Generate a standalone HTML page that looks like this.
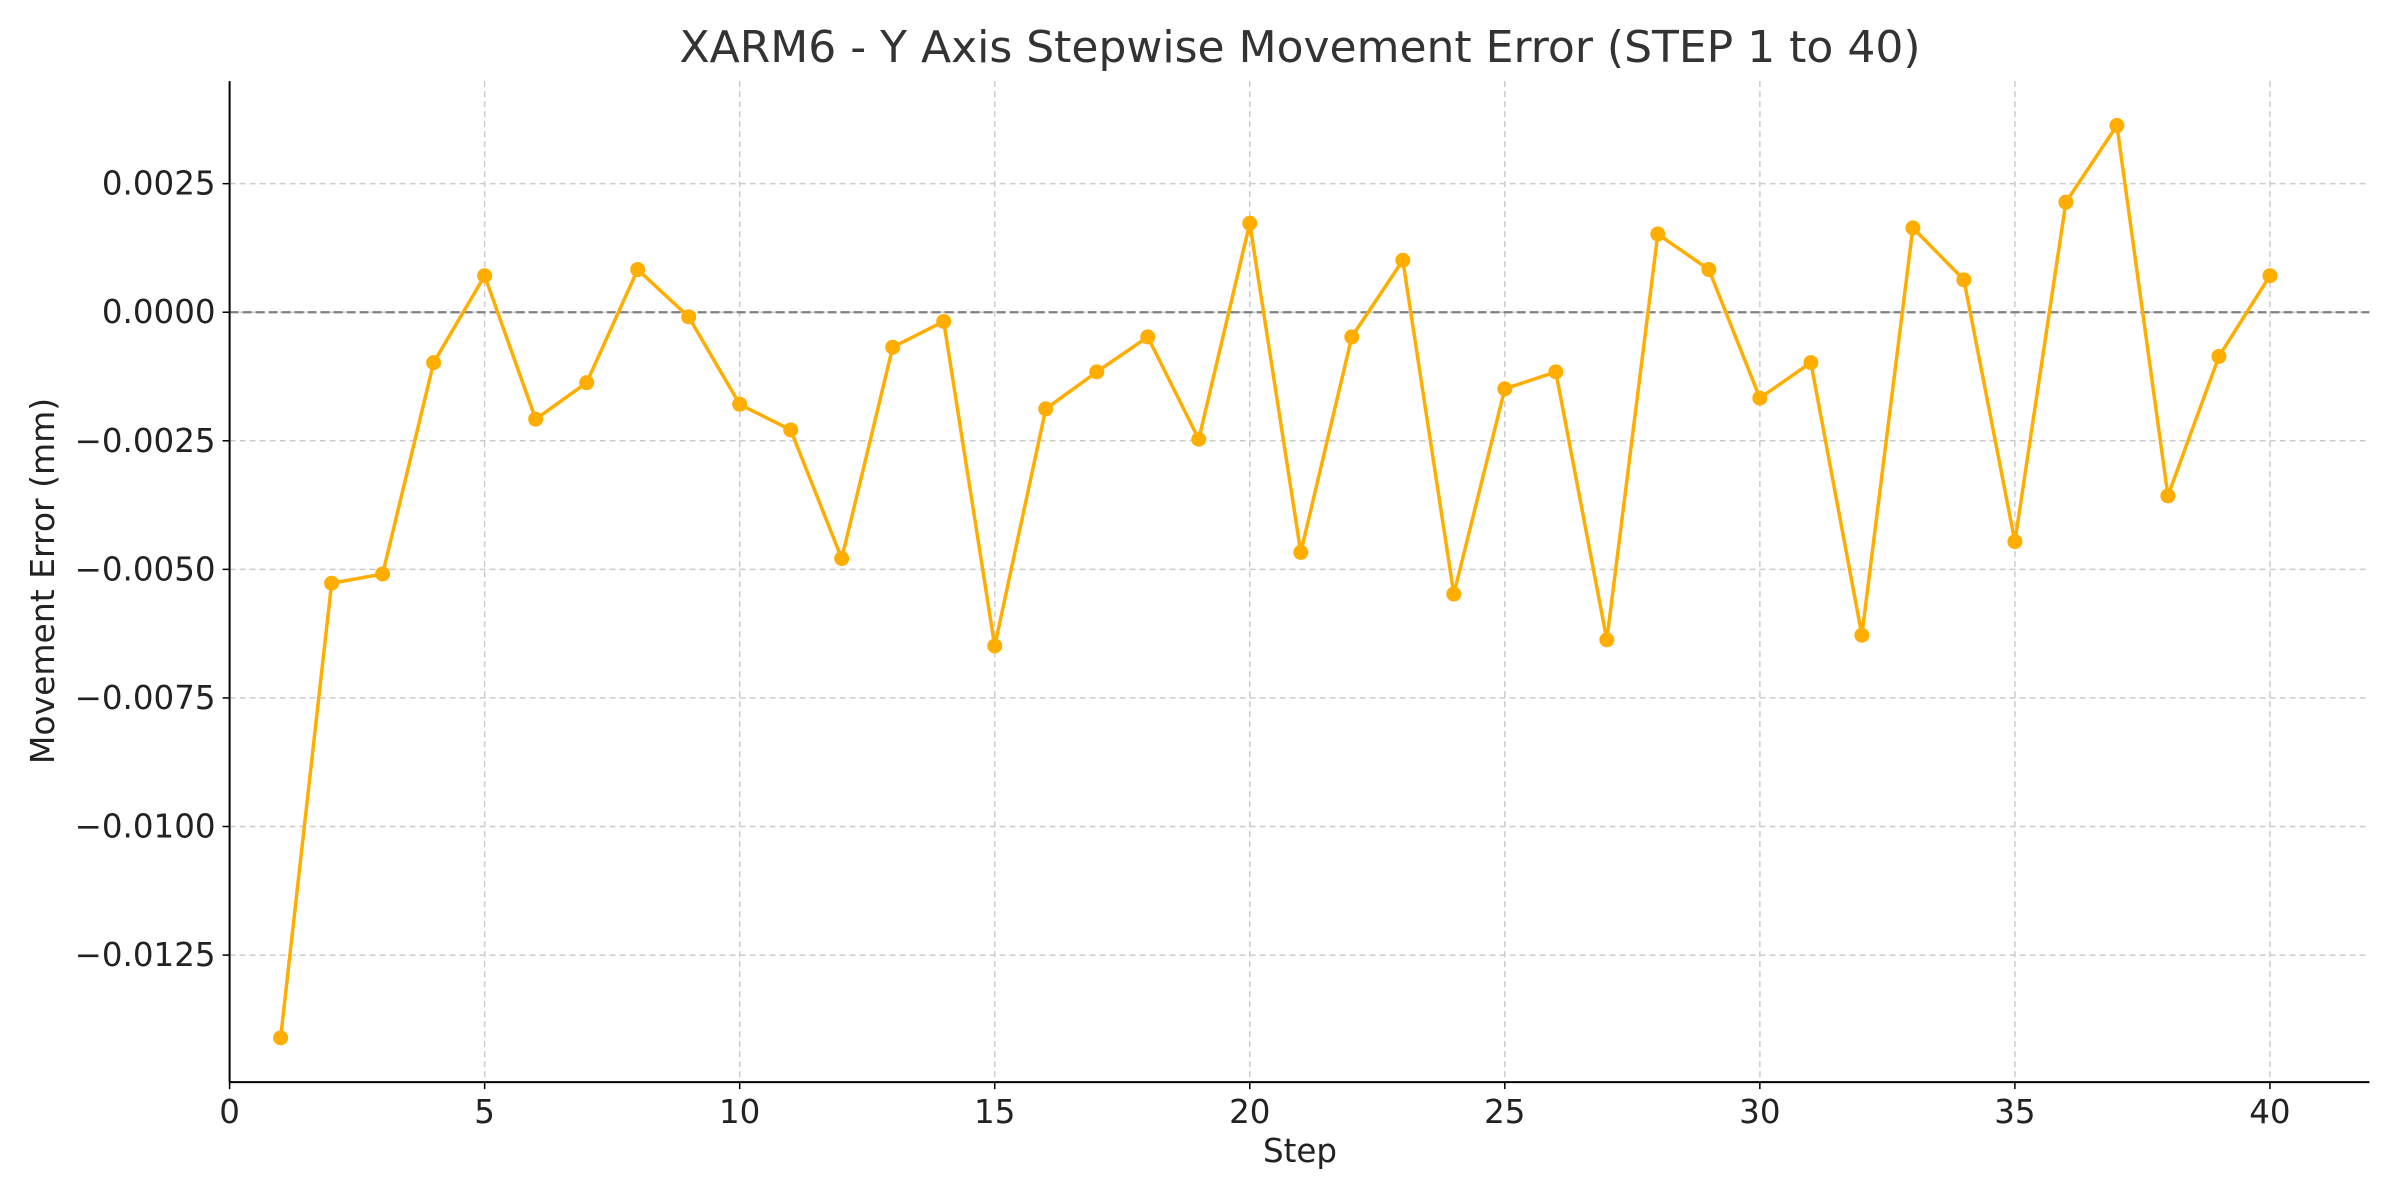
<!DOCTYPE html>
<html><head><meta charset="utf-8"><style>
html,body{margin:0;padding:0;background:#fff;}
svg{display:block;font-family:"DejaVu Sans","Liberation Sans",sans-serif;}
</style></head><body>
<svg id="chart" width="2400" height="1200" viewBox="0 0 2400 1200" xmlns="http://www.w3.org/2000/svg">
<rect width="2400" height="1200" fill="#fff"/>
<text x="1300" y="62" font-size="44" fill="#333" text-anchor="middle">XARM6 - Y Axis Stepwise Movement Error (STEP 1 to 40)</text>
<text x="1300" y="1162" font-size="32.5" fill="#222" text-anchor="middle">Step</text>
<text x="54" y="581" font-size="33" fill="#222" text-anchor="middle" transform="rotate(-90 54 581)">Movement Error (mm)</text>
<g id="grid"></g><g id="axes"></g><g id="series"></g>
</svg>
<script>
const steps = [1,2,3,4,5,6,7,8,9,10,11,12,13,14,15,16,17,18,19,20,21,22,23,24,25,26,27,28,29,30,31,32,33,34,35,36,37,38,39,40];
const errors = [-0.01411,-0.00527,-0.00509,-0.00098,0.00071,-0.00208,-0.00137,0.00083,-0.00009,-0.00179,-0.00229,-0.00479,-0.00068,-0.00018,-0.00649,-0.00188,-0.00116,-0.00048,-0.00247,0.00173,-0.00467,-0.00048,0.00101,-0.00548,-0.00149,-0.00116,-0.00637,0.00152,0.00083,-0.00167,-0.00098,-0.00628,0.00164,0.00063,-0.00446,0.00214,0.00363,-0.00357,-0.00086,0.00071];
const xTicks = [0,5,10,15,20,25,30,35,40];
const yTicks = [0.0025,0,-0.0025,-0.005,-0.0075,-0.01,-0.0125];
const yTickLabels = ["0.0025","0.0000","\u22120.0025","\u22120.0050","\u22120.0075","\u22120.0100","\u22120.0125"];

const L=229.6,R=2369.4,T=81.1,B=1082.1;
const xMin=0,xMax=41.95,yMin=-0.01497,yMax=0.004494;
const sx=v=>L+(v-xMin)/(xMax-xMin)*(R-L);
const sy=v=>B-(v-yMin)/(yMax-yMin)*(B-T);
const NS="http://www.w3.org/2000/svg";
function mk(tag,attrs,parent){const e=document.createElementNS(NS,tag);for(const k in attrs)e.setAttribute(k,attrs[k]);parent.appendChild(e);return e;}
const grid=document.getElementById('grid'),axes=document.getElementById('axes'),series=document.getElementById('series');

xTicks.forEach(t=>{
  const g=mk('line',{x1:sx(t),x2:sx(t),y1:T,y2:B,stroke:'#ccc','stroke-width':1.5,'stroke-dasharray':'6,4'},grid);
  
  
  const tk=mk('line',{x1:sx(t),x2:sx(t),y1:B,y2:B+7,stroke:'#000','stroke-width':1.5},axes);
  
  
  const lb=mk('text',{x:sx(t),y:B+41,'font-size':32.5,'text-anchor':'middle',fill:'#222'},axes);
  lb.textContent=t;
  
  
});
yTicks.forEach((t,i)=>{
  const g=mk('line',{x1:L,x2:R,y1:sy(t),y2:sy(t),stroke:'#ccc','stroke-width':1.5,'stroke-dasharray':'6,4'},grid);
  
  
  const tk=mk('line',{x1:L-7,x2:L,y1:sy(t),y2:sy(t),stroke:'#000','stroke-width':1.5},axes);
  
  
  const lb=mk('text',{x:L-14,y:sy(t)+11,'font-size':32.5,'text-anchor':'end',fill:'#222'},axes);
  lb.textContent=yTickLabels[i];
  
  
});
const zl=mk('line',{x1:L,x2:R,y1:sy(0),y2:sy(0),stroke:'#808080','stroke-width':2.2,'stroke-dasharray':'9,4'},grid);


const ya=mk('line',{x1:L,x2:L,y1:T,y2:B,stroke:'#000','stroke-width':2},axes);


const xa=mk('line',{x1:L,x2:R,y1:B,y2:B,stroke:'#000','stroke-width':2},axes);



const pts=steps.map((s,i)=>sx(s)+','+sy(errors[i])).join(' ');
const pl=mk('polyline',{points:pts,fill:'none',stroke:'#FFAE00','stroke-width':3.5,'stroke-linejoin':'round'},series);


steps.forEach((s,i)=>{
  const c=mk('circle',{cx:sx(s),cy:sy(errors[i]),r:7.5,fill:'#FFAE00'},series);
  
  
});
</script>
</body></html>
